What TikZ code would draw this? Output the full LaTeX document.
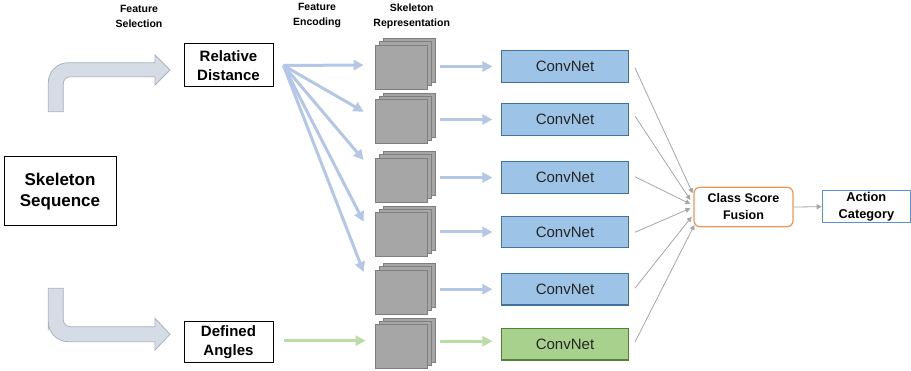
\documentclass[tikz,border=0pt]{standalone}
\usepackage{fontspec}
\setmainfont{Liberation Sans}
\usetikzlibrary{arrows.meta,calc}
\definecolor{arrB}{HTML}{B4C7E7}
\definecolor{arrG}{HTML}{BCDCA6}
\definecolor{convB}{HTML}{41719C}
\definecolor{convF}{HTML}{9DC3E6}
\definecolor{convGB}{HTML}{548235}
\definecolor{convGF}{HTML}{A9D18E}
\definecolor{stkF}{HTML}{A6A6A6}
\definecolor{stkB}{HTML}{7F7F7F}
\definecolor{bentF}{HTML}{D6DCE5}
\definecolor{bentB}{HTML}{AAB2BD}
\definecolor{lineG}{HTML}{A6A6A6}
\definecolor{fusB}{HTML}{F0955A}
\definecolor{actB}{HTML}{5B8FD9}
\begin{document}
\begin{tikzpicture}[x=1pt,y=-1pt,
  box/.style={draw=black, line width=1pt, fill=white, inner sep=0pt, align=center, font=\bfseries\fontsize{15}{19}\selectfont},
  hdr/.style={align=center, font=\bfseries\fontsize{10.5}{15}\selectfont, inner sep=0pt},
  conv/.style={draw=convB, fill=convF, line width=1.2pt, minimum width=126.6pt, minimum height=31.6pt, inner sep=0pt, font=\fontsize{15}{18}\selectfont, text=black!85},
  convg/.style={conv, draw=convGB, fill=convGF},
  stk/.style={draw=stkB, fill=stkF, line width=0.8pt},
  stkfront/.style={stk, minimum width=52pt, minimum height=44pt, inner sep=0pt},
  barrow/.style={draw=arrB, line width=3pt, -{Triangle[length=10pt,width=10pt]}},
  garrow/.style={barrow, draw=arrG},
  thin/.style={draw=lineG, line width=0.8pt, -{Triangle[length=5pt,width=5pt]}},
  bent/.style={fill=bentF, draw=bentB, line width=0.8pt}
]
\useasboundingbox (0,0) rectangle (911,371);

% headers
\node[hdr] (h1) at (139,16) {Feature\\Selection};
\node[hdr] (h2) at (317,16) {Feature\\Encoding};
\node[hdr] (h3) at (411.7,16) {Skeleton\\Representation};

% main boxes
\node[box, minimum width=112pt, minimum height=69pt, font=\bfseries\fontsize{17}{21.7}\selectfont] (sk) at (60,191.5) {Skeleton\\Sequence};
\node[box, minimum width=89pt, minimum height=43pt] (rd) at (228.5,65.5) {Relative\\Distance};
\node[box, minimum width=89pt, minimum height=41pt] (da) at (228.5,342.5) {Defined\\Angles};

% bent arrows
\path[bent] (55,111.7) -- (48.3,111.7) -- (48.3,90) [rounded corners=20pt] -- (48.3,62.7) -- (100,62.7) [sharp corners] -- (155,62.7) -- (155,55) -- (170,70) -- (155,85) -- (155,76.7) -- (100,76.7) [rounded corners=7pt] -- (63.3,76.7) -- (63.3,95) [sharp corners] -- (63.3,111.7) -- cycle;
\path[bent] (55,288.3) -- (63.3,288.3) -- (63.3,300) [rounded corners=7pt] -- (63.3,326.7) -- (100,326.7) [sharp corners] -- (155,326.7) -- (155,318.3) -- (170,334.2) -- (155,350) -- (155,341.7) -- (100,341.7) [rounded corners=20pt] -- (48.3,341.7) -- (48.3,310) [sharp corners] -- (48.3,288.3) -- cycle;

% stacks
\foreach \i/\y in {1/67,2/121.7,3/180,4/234.7,5/292,6/346.7} {
  \draw[stk] (409-26,\y-6.7-22) rectangle ++(52,44);
  \draw[stk] (405-26,\y-3.3-22) rectangle ++(52,44);
  \node[stkfront] (s\i) at (401,\y) {};
}

% convnets
\foreach \i/\y in {1/66.5,2/119.5,3/177.5,4/232,5/289.3} {
  \node[conv] (c\i) at (565,\y) {ConvNet};
}
\node[convg] (c6) at (565,344.2) {ConvNet};

% fusion and category
\node[draw=fusB, line width=1.2pt, rounded corners=6pt, fill=white, minimum width=99pt, minimum height=39.4pt, inner sep=0pt, align=center, font=\bfseries\fontsize{12.5}{17}\selectfont] (fus) at (743.5,207) {Class Score\\Fusion};
\node[draw=actB, line width=1.2pt, fill=white, minimum width=88.2pt, minimum height=32pt, inner sep=0pt, align=center, font=\bfseries\fontsize{12.8}{17}\selectfont] (act) at (866.4,206.7) {Action\\Category};

% relative distance -> stacks
\coordinate (rdo) at ($(rd.east)+(10,0)$);
\foreach \i/\dy in {1/-2,2/-10,3/-20,4/-13,5/-20} {
  \draw[barrow] (rdo) -- ($(s\i.west)+(-11,\dy)$);
}
% defined angles -> stack 6
\draw[garrow] ($(da.east)+(10,-1.8)$) -- ($(s6.west)+(-9,-6)$);

% stacks -> convnets
\foreach \i in {1,...,5} {
  \draw[barrow] ($(s\i.east |- c\i.center)+(13,0)$) -- ($(c\i.west)+(-8.7,0)$);
}
\draw[garrow] ($(s6.east |- c6.center)+(13,-3)$) -- ($(c6.west)+(-8.7,-3)$);

% convnets -> fusion
\foreach \i/\sy/\ex/\ey in {1/1.2/-0.7/-13.7, 2/-3.5/-3/-7, 3/-0.8/-3/-3, 4/0.3/-3/1.3, 5/-1/-1.7/9.7, 6/-2/1/18} {
  \draw[thin] ($(c\i.east)+(6,\sy)$) -- ($(fus.west)+(\ex,\ey)$);
}
\draw[thin] (fus.east) -- (act.west);
\end{tikzpicture}
\end{document}
